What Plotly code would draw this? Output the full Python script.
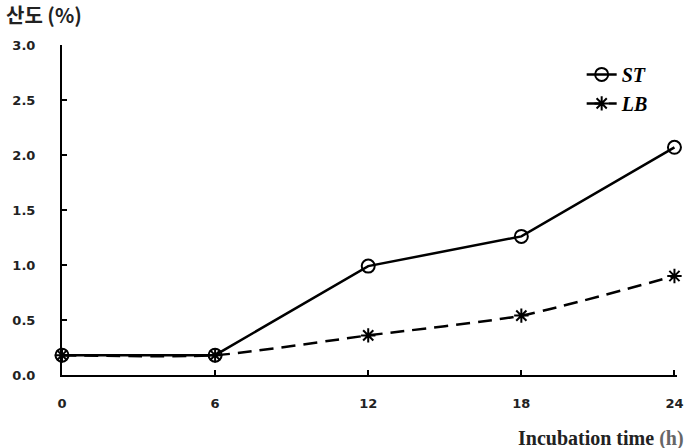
import plotly.graph_objects as go

hours = [0, 6, 12, 18, 24]
st_values = [0.18, 0.18, 0.99, 1.26, 2.07]
lb_values = [0.18, 0.18, 0.36, 0.54, 0.90]
x_ticks = [0, 6, 12, 18, 24]
y_ticks = [0.0, 0.5, 1.0, 1.5, 2.0, 2.5, 3.0]

fig = go.Figure()
fig.add_trace(go.Scatter(
    x=hours, y=lb_values, name="<b><i>LB</i></b>", mode="lines+markers", cliponaxis=False,
    line=dict(color="black", width=2.5, dash="14px,8px", shape="spline", smoothing=0.6),
    marker=dict(symbol="asterisk-open", size=12, line=dict(color="black", width=2), color="black"),
))
fig.add_trace(go.Scatter(
    x=hours, y=st_values, name="<b><i>ST</i></b>", mode="lines+markers", cliponaxis=False,
    line=dict(color="black", width=2.5),
    marker=dict(symbol="circle-open", size=13, line=dict(color="black", width=2), color="black"),
))

tick_font = dict(family="DejaVu Sans", size=13, color="#222", weight="bold")

fig.update_layout(
    width=695, height=448,
    margin=dict(l=61, r=12, t=45, b=73),
    paper_bgcolor="white", plot_bgcolor="white",
    showlegend=True,
    legend=dict(x=0.845, y=0.97, xanchor="left", yanchor="top", traceorder="reversed",
                font=dict(family="Liberation Serif", size=20, color="black"),
                bgcolor="rgba(0,0,0,0)", itemwidth=30, tracegroupgap=0),
    xaxis=dict(range=[0, 24.1], tickmode="array", tickvals=x_ticks,
               ticktext=[str(v) for v in x_ticks],
               showline=True, linecolor="black", linewidth=2,
               ticks="inside", ticklen=5, tickwidth=1.5, tickcolor="black",
               showgrid=False, zeroline=False,
               tickfont=tick_font, ticklabelstandoff=15),
    yaxis=dict(range=[0, 3], tickmode="array", tickvals=y_ticks,
               ticktext=[f"{v:.1f}" for v in y_ticks],
               showline=True, linecolor="black", linewidth=2,
               ticks="inside", ticklen=5, tickwidth=1.5, tickcolor="black",
               showgrid=False, zeroline=False,
               tickfont=tick_font, ticklabelstandoff=22),
    annotations=[
        dict(text="<b>산도 (%)</b>", xref="paper", yref="paper", x=0, y=1,
             xanchor="left", yanchor="bottom", xshift=-58, yshift=14, showarrow=False,
             font=dict(family="Noto Sans CJK KR", size=20, color="#222")),
        dict(text="<b>Incubation time <span style='color:#666'>(h)</span></b>",
             xref="paper", yref="paper", x=1.015, y=0, xanchor="right", yanchor="top",
             yshift=-50, showarrow=False,
             font=dict(family="Liberation Serif", size=20, color="#222")),
    ],
)

fig.write_html("out.html")
